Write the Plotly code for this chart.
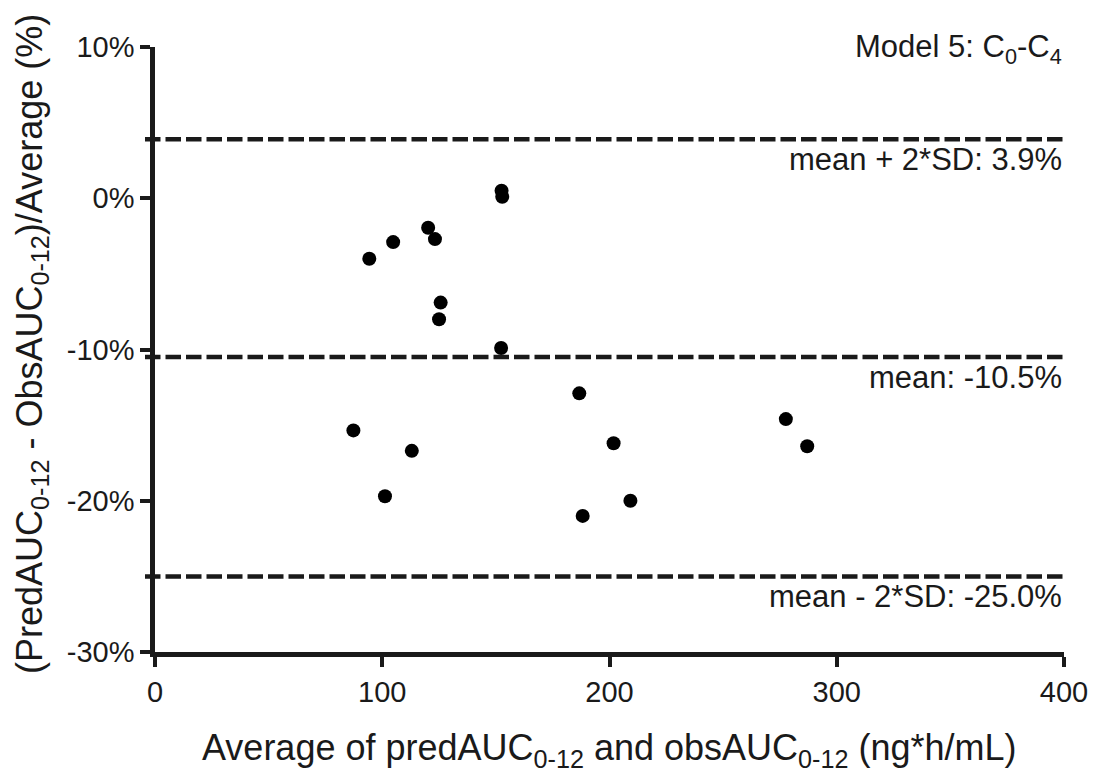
import plotly.graph_objects as go

# Bland-Altman style data: average AUC vs. percent difference
avg_auc = [94.3, 104.8, 120.2, 123.2, 125.7, 125.0, 152.5, 152.8, 152.3,
           87.3, 113.0, 101.2, 186.7, 201.8, 188.2, 209.2, 277.6, 287.0]
pct_diff = [-4.0, -2.9, -1.95, -2.7, -6.9, -8.0, 0.5, 0.1, -9.9,
            -15.35, -16.7, -19.7, -12.9, -16.2, -21.0, -20.0, -14.6, -16.4]

# Reference lines (mean and limits of agreement)
ref_values = [3.9, -10.5, -25.0]
ref_labels = ["mean + 2*SD: 3.9%", "mean: -10.5%", "mean - 2*SD: -25.0%"]

x_ticks = [0, 100, 200, 300, 400]
y_ticks = [10, 0, -10, -20, -30]
y_tick_text = ["10%", "0%", "-10%", "-20%", "-30%"]

FONT = "Liberation Sans, Arial, sans-serif"
INK = "#1a1a1a"

fig = go.Figure()

fig.add_trace(go.Scatter(
    x=avg_auc, y=pct_diff, mode="markers",
    marker=dict(color="black", size=14, line=dict(width=0)),
    showlegend=False, cliponaxis=False,
))

for val, lab in zip(ref_values, ref_labels):
    fig.add_shape(type="line", xref="paper", yref="y",
                  x0=-0.011, x1=1.0, y0=val, y1=val,
                  line=dict(color=INK, width=4.5, dash="15.5px,5px"))
    fig.add_annotation(xref="paper", yref="y", x=1.0, y=val,
                       text=lab, showarrow=False, xanchor="right", yanchor="top",
                       yshift=-1, font=dict(family=FONT, size=31, color=INK))

fig.add_annotation(xref="paper", yref="paper", x=1.0, y=1.0,
                   text="Model 5: C<sub>0</sub>-C<sub>4</sub>", showarrow=False,
                   xanchor="right", yanchor="middle", yshift=-2,
                   font=dict(family=FONT, size=31, color=INK))

# Axis titles
fig.add_annotation(xref="paper", yref="paper", x=0.5, y=0, yshift=-98,
                   xanchor="center", yanchor="middle", showarrow=False,
                   text="Average of predAUC<sub>0-12</sub> and obsAUC<sub>0-12</sub> (ng*h/mL)",
                   font=dict(family=FONT, size=36, color=INK))
fig.add_annotation(xref="paper", yref="paper", x=0, xshift=-123, y=0.509,
                   xanchor="center", yanchor="middle", showarrow=False, textangle=-90,
                   text="(PredAUC<sub>0-12</sub> - ObsAUC<sub>0-12</sub>)/Average (%)",
                   font=dict(family=FONT, size=36, color=INK))

axis_common = dict(
    showline=True, linecolor=INK, linewidth=4.5,
    ticks="outside", ticklen=10, tickwidth=3.5, tickcolor=INK,
    showgrid=False, zeroline=False,
    tickfont=dict(family=FONT, size=29, color=INK),
)

fig.update_xaxes(range=[0, 400], tickvals=x_ticks, **axis_common)
fig.update_yaxes(range=[-30, 10], tickvals=y_ticks, ticktext=y_tick_text, **axis_common)

fig.update_layout(
    width=1100, height=776,
    margin=dict(l=155, r=34, t=47, b=124),
    paper_bgcolor="white", plot_bgcolor="white",
    showlegend=False,
)

fig.write_html("out.html")
